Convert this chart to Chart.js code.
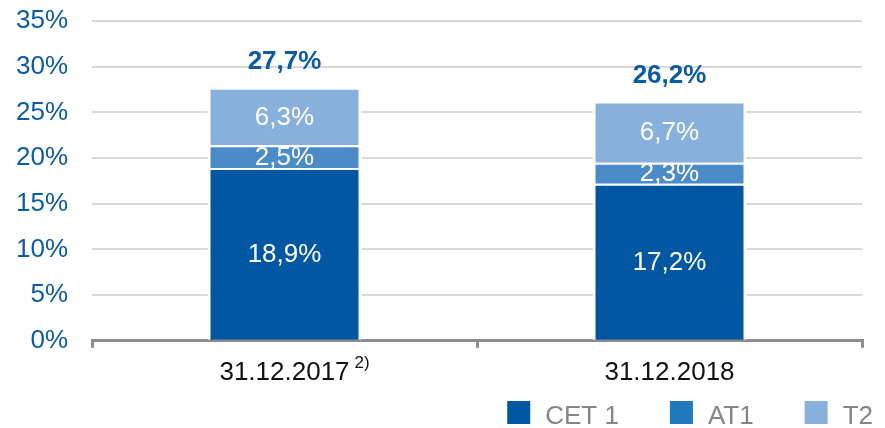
<!DOCTYPE html>
<html>
<head>
<meta charset="utf-8">
<script src="https://cdn.jsdelivr.net/npm/chart.js@4.4.1/dist/chart.umd.min.js"></script>
<style>
    html, body { margin: 0; padding: 0; background: #ffffff; }
    #wrap { width: 885px; height: 428px; position: relative; }
</style>
</head>
<body>
<div id="wrap"><canvas id="capitalChart"></canvas></div>
<script>
// Chart data
const categories = ['31.12.2017', '31.12.2018'];
const footnotes = ['2)', ''];
const cet1Values = [18.9, 17.2];
const at1Values = [2.5, 2.3];
const t2Values = [6.3, 6.7];
const seriesNames = ['CET 1', 'AT1', 'T2'];
const yTicks = [0, 5, 10, 15, 20, 25, 30, 35];

// Colors
const barColors = ['#0257a3', '#4b8bc8', '#88b0dc'];
const legendColors = ['#0257a3', '#2179bd', '#88b0dc'];
const blue = '#0a5aa5';
const fontFamily = "'Liberation Sans', Arial, sans-serif";

function formatPercent(value) {
    return value.toFixed(1).replace('.', ',') + '%';
}

// Labels inside segments and totals above the bars
const valueLabelPlugin = {
    id: 'valueLabels',
    afterDatasetsDraw(chart) {
        const ctx = chart.ctx;
        ctx.save();
        ctx.textAlign = 'center';
        ctx.textBaseline = 'middle';
        ctx.font = '26px ' + fontFamily;
        ctx.fillStyle = '#ffffff';
        chart.data.datasets.forEach((dataset, di) => {
            chart.getDatasetMeta(di).data.forEach((bar, i) => {
                const cy = (bar.y + bar.base) / 2;
                ctx.fillText(formatPercent(dataset.data[i]), bar.x, cy + 1);
            });
        });

        // totals
        const lastMeta = chart.getDatasetMeta(chart.data.datasets.length - 1);
        ctx.font = 'bold 26px ' + fontFamily;
        ctx.fillStyle = blue;
        categories.forEach((c, i) => {
            const total = cet1Values[i] + at1Values[i] + t2Values[i];
            const bar = lastMeta.data[i];
            ctx.fillText(formatPercent(total), bar.x, bar.y - 26);
        });
        ctx.restore();
    }
};

// Footnote marks next to category labels and the legend at the bottom right
const extrasPlugin = {
    id: 'extras',
    afterDraw(chart) {
        const ctx = chart.ctx;
        const xScale = chart.scales.x;
        ctx.save();

        ctx.font = '26px ' + fontFamily;
        categories.forEach((c, i) => {
            if (!footnotes[i]) return;
            const w = ctx.measureText(c).width;
            const x = xScale.getPixelForValue(i) + w / 2 + 5;
            ctx.font = '17px ' + fontFamily;
            ctx.fillStyle = '#111111';
            ctx.textAlign = 'left';
            ctx.textBaseline = 'top';
            ctx.fillText(footnotes[i], x, xScale.top + 14);
            ctx.font = '26px ' + fontFamily;
        });

        // legend
        const boxSize = 23;
        const textGap = 15;
        const itemGap = 51;
        ctx.font = '26px ' + fontFamily;
        const widths = seriesNames.map(n => boxSize + textGap + ctx.measureText(n).width);
        const totalWidth = widths.reduce((a, b) => a + b, 0) + itemGap * (seriesNames.length - 1);
        let x = chart.width - 12 - totalWidth;
        const boxTop = chart.height - 27;
        seriesNames.forEach((name, i) => {
            ctx.fillStyle = legendColors[i];
            ctx.fillRect(x, boxTop, boxSize, boxSize);
            ctx.fillStyle = '#858585';
            ctx.textAlign = 'left';
            ctx.textBaseline = 'middle';
            ctx.fillText(name, x + boxSize + textGap, boxTop + boxSize / 2 + 4);
            x += widths[i] + itemGap;
        });
        ctx.restore();
    }
};

const seriesValues = [cet1Values, at1Values, t2Values];

const ctx = document.getElementById('capitalChart').getContext('2d');
const capitalChart = new Chart(ctx, {
    type: 'bar',
    data: {
        labels: categories,
        datasets: seriesValues.map((values, i) => ({
            label: seriesNames[i],
            data: values,
            backgroundColor: barColors[i],
            borderColor: '#ffffff',
            borderWidth: { top: 2, bottom: 0, left: 3, right: 3 },
            borderSkipped: false,
            barPercentage: 0.4,
            categoryPercentage: 1
        }))
    },
    options: {
        responsive: true,
        maintainAspectRatio: false,
        animation: false,
        layout: {
            padding: { top: 21, right: 23, bottom: 31, left: 0 }
        },
        plugins: {
            legend: { display: false },
            tooltip: { enabled: false }
        },
        scales: {
            x: {
                stacked: true,
                grid: {
                    drawOnChartArea: false,
                    drawTicks: true,
                    tickLength: 7,
                    tickColor: '#8c8c8c',
                    lineWidth: 3
                },
                border: { display: true, color: '#8c8c8c', width: 3 },
                ticks: {
                    color: '#111111',
                    padding: 9,
                    font: { family: fontFamily, size: 26 }
                }
            },
            y: {
                stacked: true,
                min: yTicks[0],
                max: yTicks[yTicks.length - 1],
                afterBuildTicks(scale) {
                    scale.ticks = yTicks.map(v => ({ value: v }));
                },
                afterFit(scale) {
                    scale.width = 92;
                },
                grid: {
                    color: '#d9d9d9',
                    lineWidth: 2,
                    drawTicks: true,
                    tickLength: 24,
                    tickColor: 'rgba(0, 0, 0, 0)'
                },
                border: { display: false },
                ticks: {
                    color: blue,
                    padding: 0,
                    font: { family: fontFamily, size: 26 },
                    callback: function(value) {
                        return value + '%';
                    }
                }
            }
        }
    },
    plugins: [valueLabelPlugin, extrasPlugin]
});
</script>
</body>
</html>
